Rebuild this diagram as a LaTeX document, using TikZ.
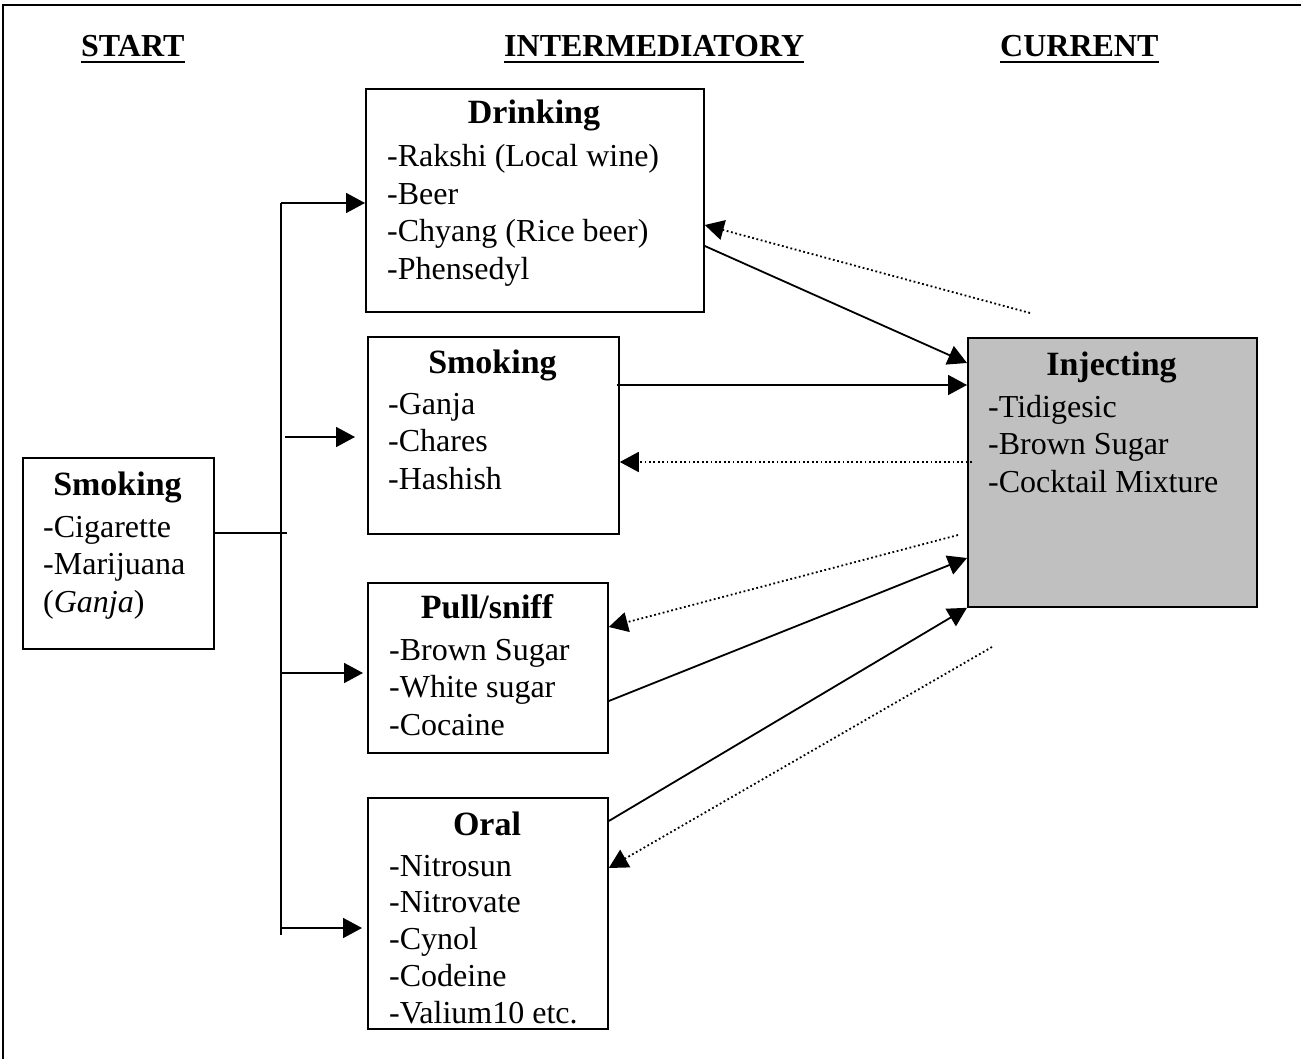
\documentclass[tikz,border=0pt]{standalone}
\usepackage{fontspec}
\setmainfont{Liberation Serif}
\usetikzlibrary{arrows.meta}
\definecolor{injgray}{RGB}{192,192,192}

\begin{document}
\begin{tikzpicture}[x=1pt,y=-1pt,
  box/.style={draw, line width=1.8pt, inner sep=0pt, anchor=north west},
  head/.style={inner sep=0pt, anchor=base, font=\fontsize{34}{40}\selectfont\bfseries},
  items/.style={inner sep=0pt, anchor=base west, font=\fontsize{32}{37.5}\selectfont},
  colhead/.style={inner sep=0pt, anchor=base west, font=\fontsize{32}{38}\selectfont\bfseries},
  uline/.style={line width=2.5pt},
  wire/.style={line width=1.8pt},
  arr/.style={line width=1.8pt, -{Triangle[length=19pt,width=20pt]}},
  back/.style={line width=1.8pt, dash pattern=on 1.8pt off 2.6pt, -{Triangle[length=19pt,width=20pt]}}
]
% page and frame
\fill[white] (0,0) rectangle (1301,1059);
\useasboundingbox (0,0) rectangle (1301,1059);
\draw[line width=2pt] (3,1059) -- (3,5) -- (1301,5);

% column titles
\node[colhead] (hStart) at (81,57) {START};
\node[colhead] (hMid) at (504,57) {INTERMEDIATORY};
\node[colhead] (hCur) at (1000,57) {CURRENT};
\foreach \h in {hStart,hMid,hCur}
  \draw[uline] ([yshift=-5pt]\h.base west) -- ([yshift=-5pt]\h.base east);

% boxes
\node[box, minimum width=191pt, minimum height=191pt] (start) at (22,457) {};
\node[box, minimum width=338pt, minimum height=223pt] (drink) at (365,88) {};
\node[box, minimum width=251pt, minimum height=197pt] (smoke) at (367,336) {};
\node[box, minimum width=240pt, minimum height=170pt] (pull) at (367,582) {};
\node[box, minimum width=240pt, minimum height=231pt] (oral) at (367,797) {};
\node[box, fill=injgray, minimum width=289pt, minimum height=269pt] (inject) at (967,337) {};

% box contents
\node[head] (startH) at (117.5,495) {Smoking};
\node[items] (startL) at (43,537) {\begin{tabular}[t]{@{}l@{}}-Cigarette\\-Marijuana\\(\textit{Ganja})\end{tabular}};

\node[head] (drinkH) at (534,124) {Drinking};
\node[items] (drinkL) at (387,167) {\begin{tabular}[t]{@{}l@{}}-Rakshi (Local wine)\\-Beer\\-Chyang (Rice beer)\\-Phensedyl\end{tabular}};

\node[head] (smokeH) at (492.5,373) {Smoking};
\node[items] (smokeL) at (388,414) {\begin{tabular}[t]{@{}l@{}}-Ganja\\-Chares\\-Hashish\end{tabular}};

\node[head] (pullH) at (487,618) {Pull/sniff};
\node[items] (pullL) at (389,660) {\begin{tabular}[t]{@{}l@{}}-Brown Sugar\\-White sugar\\-Cocaine\end{tabular}};

\node[head] (oralH) at (487,835) {Oral};
\node[items, font=\fontsize{32}{36.8}\selectfont] (oralL) at (389,876) {\begin{tabular}[t]{@{}l@{}}-Nitrosun\\-Nitrovate\\-Cynol\\-Codeine\\-Valium10 etc.\end{tabular}};

\node[head] (injectH) at (1111.5,375) {Injecting};
\node[items] (injectL) at (988,417) {\begin{tabular}[t]{@{}l@{}}-Tidigesic\\-Brown Sugar\\-Cocktail Mixture\end{tabular}};

% branching tree from the starting box
\coordinate (trunkTop) at (281,203);
\coordinate (trunkEnd) at (281,935);
\coordinate (stubEnd) at (287,533);
\coordinate (smokeStub) at (285,437);
\draw[wire] (start.east |- stubEnd) -- (stubEnd);
\draw[wire] (trunkTop) -- (trunkEnd);
\draw[arr] (trunkTop) -- (drink.west |- trunkTop);
\draw[arr, shorten >=12pt] (smokeStub) -- (smoke.west |- smokeStub);
\draw[arr, shorten >=4pt] (trunkTop |- 0,673) -- (pull.west |- 0,673);
\draw[arr, shorten >=5pt] (trunkTop |- 0,928) -- (oral.west |- 0,928);

% forward paths into injecting
\draw[arr] (drink.east |- 0,246) -- (inject.west |- 0,363);
\draw[arr] ([xshift=-3pt]smoke.east |- 0,385) -- (inject.west |- 0,385);
\draw[arr] (pull.east |- 0,701) -- (inject.west |- 0,558);
\draw[arr] (oral.east |- 0,821) -- (inject.south west);

% dotted return paths
\coordinate (rDrink) at (1030,313);
\coordinate (rSmoke) at (972,462);
\coordinate (rPull) at (958,535);
\coordinate (rOral) at (992,647);
\draw[back] (rDrink) -- (drink.east |- 0,225);
\draw[back] (rSmoke) -- (smoke.east |- rSmoke);
\draw[back] (rPull) -- (pull.east |- 0,627);
\draw[back] (rOral) -- (oral.east |- 0,868);
\end{tikzpicture}
\end{document}
